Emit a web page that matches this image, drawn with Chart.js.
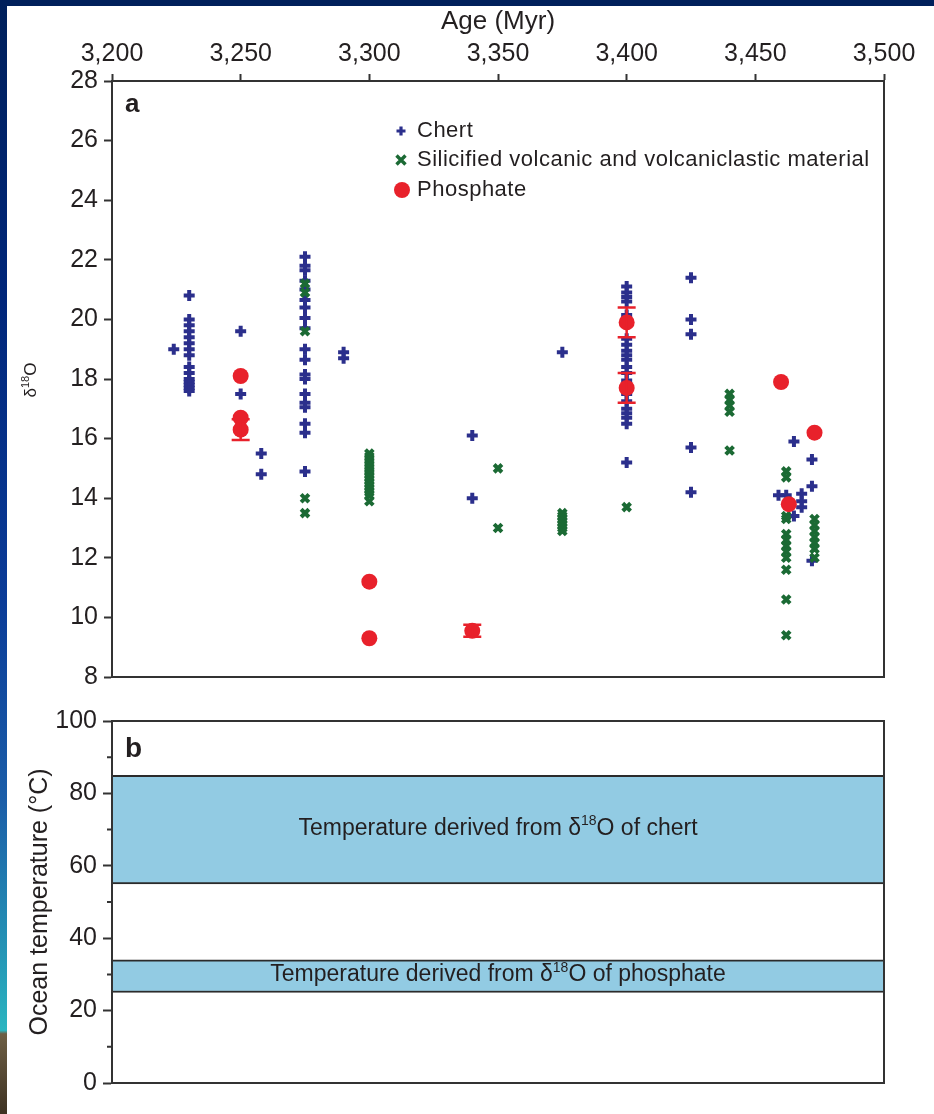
<!DOCTYPE html>
<html>
<head>
<meta charset="utf-8">
<script src="https://cdn.jsdelivr.net/npm/chart.js@4.4.0/dist/chart.umd.min.js"></script>
<style>
  body { margin: 0; width: 934px; height: 1114px; overflow: hidden; background: #fff; position: relative; }
  #topband { position: absolute; left: 0; top: 0; width: 934px; height: 6px; background: #00205b; z-index: 5; }
  #leftband { position: absolute; left: 0; top: 0; width: 7px; height: 1114px; z-index: 5;
    background: linear-gradient(to bottom, #00205b 0%, #00267a 27%, #0b3c98 54%, #1b5ea8 72%, #2493b5 85%, #2bb5c0 92.5%, #6e5f45 92.8%, #3e3222 100%); }
  #chartA { position: absolute; left: 0; top: 0; }
  #chartB { position: absolute; left: 0; top: 700px; }
</style>
</head>
<body>
<div id="topband"></div>
<div id="leftband"></div>
<canvas id="chartA" width="934" height="700"></canvas>
<canvas id="chartB" width="934" height="414"></canvas>
<script>
const FONT = '"Liberation Sans", Arial, sans-serif';
const INK = '#231f20';

// panel a: d18O vs age
const ageTicks = [3200, 3250, 3300, 3350, 3400, 3450, 3500];

const chertAge = [3224, 3230, 3250, 3258, 3275, 3290, 3340, 3375, 3400, 3425, 3459, 3462, 3465, 3468, 3472];
const chertD18O = [
  [19.0],
  [20.8, 20.0, 19.8, 19.6, 19.4, 19.2, 19.0, 18.8, 18.4, 18.2, 18.0, 17.9, 17.8, 17.7, 17.6],
  [19.6, 17.5],
  [15.5, 14.8],
  [22.1, 21.8, 21.65, 21.3, 21.0, 20.65, 20.4, 20.05, 19.7, 19.0, 18.65, 18.15, 18.0, 17.5, 17.2, 17.05, 16.5, 16.2, 14.9],
  [18.9, 18.7],
  [16.1, 14.0],
  [18.9],
  [21.1, 20.9, 20.75, 20.6, 20.15, 19.85, 19.35, 19.15, 18.95, 18.8, 18.65, 18.4, 18.2, 17.95, 17.5, 17.25, 17.0, 16.85, 16.7, 16.5, 15.2],
  [21.4, 20.0, 19.5, 15.7, 14.2],
  [14.1],
  [14.1],
  [15.9, 13.4],
  [14.15, 13.9, 13.7],
  [15.3, 14.4, 11.9]
];

const silAge = [3275, 3300, 3350, 3375, 3400, 3440, 3462, 3473];
const silD18O = [
  [21.2, 20.9, 19.6, 14.0, 13.5],
  [15.5, 15.4, 15.3, 15.2, 15.1, 15.0, 14.9, 14.8, 14.7, 14.6, 14.5, 14.4, 14.3, 14.2, 14.1, 13.9],
  [15.0, 13.0],
  [13.5, 13.4, 13.3, 13.2, 13.1, 13.0, 12.9],
  [13.7],
  [17.5, 17.3, 17.1, 16.9, 15.6],
  [14.9, 14.7, 13.4, 13.3, 12.8, 12.6, 12.4, 12.2, 12.0, 11.6, 10.6, 9.4],
  [13.3, 13.1, 12.9, 12.7, 12.5, 12.3, 12.0]
];

const phosAge = [3250, 3250, 3250, 3300, 3300, 3340, 3400, 3400, 3460, 3463, 3473];
const phosD18O = [18.1, 16.7, 16.3, 11.2, 9.3, 9.55, 19.9, 17.7, 17.9, 13.8, 16.2];
const phosErr = [0, 0, 0.35, 0, 0, 0.2, 0.5, 0.5, 0, 0, 0];

// panel b: temperature ranges
const bandNames = ['chert', 'phosphate'];
const bandLow = [55, 25];
const bandHigh = [85, 34];
const tempMinorTicks = [10, 30, 50, 70, 90];

const CHERT = '#2b2f8c';
const SIL = '#1b6a34';
const PHOS = '#e8212b';
const BAND = '#92cbe3';

function columns(ages, vals) {
  const pts = [];
  ages.forEach((a, i) => vals[i].forEach(v => pts.push({ x: a, y: v })));
  return pts;
}

// text with a raised "18"
function drawIso(ctx, parts, x, y, size, align) {
  const sup = Math.round(size * 0.62);
  let w = 0;
  parts.forEach(p => {
    ctx.font = (p[1] ? sup : size) + 'px ' + FONT;
    w += ctx.measureText(p[0]).width;
  });
  let cx = align === 'center' ? x - w / 2 : x;
  ctx.textAlign = 'left';
  ctx.textBaseline = 'alphabetic';
  parts.forEach(p => {
    ctx.font = (p[1] ? sup : size) + 'px ' + FONT;
    ctx.fillText(p[0], cx, p[1] ? y - size * 0.4 : y);
    cx += ctx.measureText(p[0]).width;
  });
}

const frame = {
  id: 'frame',
  afterDraw(chart) {
    const { ctx, chartArea: a } = chart;
    ctx.save();
    ctx.strokeStyle = '#333';
    ctx.lineWidth = 2;
    ctx.strokeRect(a.left, a.top, a.right - a.left, a.bottom - a.top);
    ctx.restore();
  }
};

const errorBars = {
  id: 'errorBars',
  afterDatasetsDraw(chart) {
    const { ctx } = chart;
    const xs = chart.scales.x, ys = chart.scales.y;
    ctx.save();
    ctx.strokeStyle = PHOS;
    ctx.lineWidth = 2.5;
    phosAge.forEach((a, i) => {
      if (!phosErr[i]) return;
      const px = xs.getPixelForValue(a);
      const y1 = ys.getPixelForValue(phosD18O[i] - phosErr[i]);
      const y2 = ys.getPixelForValue(phosD18O[i] + phosErr[i]);
      ctx.beginPath();
      ctx.moveTo(px, y1); ctx.lineTo(px, y2);
      ctx.moveTo(px - 9, y1); ctx.lineTo(px + 9, y1);
      ctx.moveTo(px - 9, y2); ctx.lineTo(px + 9, y2);
      ctx.stroke();
    });
    ctx.restore();
  }
};

const panelA = {
  id: 'panelA',
  afterDraw(chart) {
    const { ctx, chartArea: a } = chart;
    ctx.save();
    ctx.fillStyle = INK;
    ctx.font = 'bold 26px ' + FONT;
    ctx.textBaseline = 'middle';
    ctx.fillText('a', a.left + 13, a.top + 24);

    // legend
    const lx = 401, tx = 417, rows = [131, 160, 190];
    ctx.strokeStyle = CHERT; ctx.lineWidth = 3.2;
    ctx.beginPath();
    ctx.moveTo(lx - 4.5, rows[0]); ctx.lineTo(lx + 4.5, rows[0]);
    ctx.moveTo(lx, rows[0] - 4.5); ctx.lineTo(lx, rows[0] + 4.5);
    ctx.stroke();
    ctx.strokeStyle = SIL; ctx.lineWidth = 3.4;
    ctx.beginPath();
    ctx.moveTo(lx - 4.5, rows[1] - 4.5); ctx.lineTo(lx + 4.5, rows[1] + 4.5);
    ctx.moveTo(lx + 4.5, rows[1] - 4.5); ctx.lineTo(lx - 4.5, rows[1] + 4.5);
    ctx.stroke();
    ctx.fillStyle = PHOS;
    ctx.beginPath(); ctx.arc(lx + 1, rows[2], 8, 0, Math.PI * 2); ctx.fill();

    ctx.fillStyle = INK;
    ctx.font = '22px ' + FONT;
    ctx.letterSpacing = '0.5px';
    ctx.textBaseline = 'middle';
    ['Chert', 'Silicified volcanic and volcaniclastic material', 'Phosphate'].forEach((t, i) => ctx.fillText(t, tx, rows[i]));
    ctx.letterSpacing = '0px';

    // y title
    ctx.translate(30, 380);
    ctx.rotate(-Math.PI / 2);
    ctx.fillStyle = INK;
    drawIso(ctx, [['δ', 0], ['18', 1], ['O', 0]], 0, 6, 17, 'center');
    ctx.restore();
  }
};

const tickFont = { family: FONT, size: 25 };

new Chart(document.getElementById('chartA'), {
  type: 'scatter',
  data: {
    datasets: [
      { label: 'Phosphate', data: phosAge.map((a, i) => ({ x: a, y: phosD18O[i] })), order: 0,
        pointStyle: 'circle', pointRadius: 8, backgroundColor: PHOS, borderWidth: 0 },
      { label: 'Silicified volcanic and volcaniclastic material', data: columns(silAge, silD18O), order: 1,
        pointStyle: 'crossRot', pointRadius: 5.5, borderColor: SIL, backgroundColor: SIL, borderWidth: 4 },
      { label: 'Chert', data: columns(chertAge, chertD18O), order: 2,
        pointStyle: 'cross', pointRadius: 5.5, borderColor: CHERT, backgroundColor: CHERT, borderWidth: 4 }
    ]
  },
  options: {
    responsive: false,
    animation: false,
    layout: { padding: { left: 0, right: 50, top: 0, bottom: 23 } },
    plugins: { legend: { display: false }, tooltip: { enabled: false } },
    scales: {
      x: {
        type: 'linear', position: 'top', min: 3200, max: 3500,
        afterBuildTicks: s => { s.ticks = ageTicks.map(v => ({ value: v })); },
        afterFit: s => { s.height = 81; },
        ticks: { font: tickFont, color: INK, padding: 5, maxRotation: 0, autoSkip: false,
          callback: v => v.toLocaleString('en-US') },
        grid: { drawOnChartArea: false, tickLength: 7, tickColor: '#333', tickWidth: 2 },
        border: { color: '#333', width: 2 },
        title: { display: true, text: 'Age (Myr)', color: INK, font: { family: FONT, size: 26 }, padding: { top: 6, bottom: 0 } }
      },
      y: {
        min: 8, max: 28,
        afterFit: s => { s.width = 112; },
        ticks: { stepSize: 2, font: tickFont, color: INK, padding: 6 },
        grid: { drawOnChartArea: false, tickLength: 8, tickColor: '#333', tickWidth: 2 },
        border: { color: '#333', width: 2 }
      }
    }
  },
  plugins: [frame, errorBars, panelA]
});

const panelB = {
  id: 'panelB',
  afterDraw(chart) {
    const { ctx, chartArea: a } = chart;
    const ys = chart.scales.y;
    ctx.save();
    ctx.strokeStyle = '#333';
    ctx.lineWidth = 2;
    ctx.beginPath();
    tempMinorTicks.forEach(v => {
      const py = ys.getPixelForValue(v);
      ctx.moveTo(a.left - 5, py); ctx.lineTo(a.left, py);
    });
    ctx.stroke();

    ctx.fillStyle = INK;
    ctx.font = 'bold 28px ' + FONT;
    ctx.textBaseline = 'middle';
    ctx.fillText('b', a.left + 13, a.top + 28);

    const cx = (a.left + a.right) / 2;
    bandNames.forEach((n, i) => {
      const py = (ys.getPixelForValue(bandLow[i]) + ys.getPixelForValue(bandHigh[i])) / 2;
      drawIso(ctx, [['Temperature derived from δ', 0], ['18', 1], ['O of ' + n, 0]], cx, py + 5, 23, 'center');
    });
    ctx.restore();
  }
};

new Chart(document.getElementById('chartB'), {
  type: 'bar',
  data: {
    labels: ['range'],
    datasets: bandNames.map((n, i) => ({
      label: n,
      data: [[bandLow[i], bandHigh[i]]],
      backgroundColor: BAND,
      borderColor: '#2b2b2b',
      borderWidth: { top: 2, bottom: 2, left: 0, right: 0 },
      borderSkipped: false,
      categoryPercentage: 1,
      barPercentage: 1,
      grouped: false
    }))
  },
  options: {
    responsive: false,
    animation: false,
    layout: { padding: { left: 0, right: 50, top: 16, bottom: 31 } },
    plugins: { legend: { display: false }, tooltip: { enabled: false } },
    scales: {
      x: { display: false },
      y: {
        min: 0, max: 100,
        afterFit: s => { s.width = 112; },
        ticks: { stepSize: 20, font: tickFont, color: INK, padding: 6 },
        grid: { drawOnChartArea: false, tickLength: 9, tickColor: '#333', tickWidth: 2 },
        border: { color: '#333', width: 2 },
        title: { display: true, text: 'Ocean temperature (°C)', color: INK, font: { family: FONT, size: 25 }, padding: { top: 25, bottom: 0 } }
      }
    }
  },
  plugins: [frame, panelB]
});
</script>
</body>
</html>
